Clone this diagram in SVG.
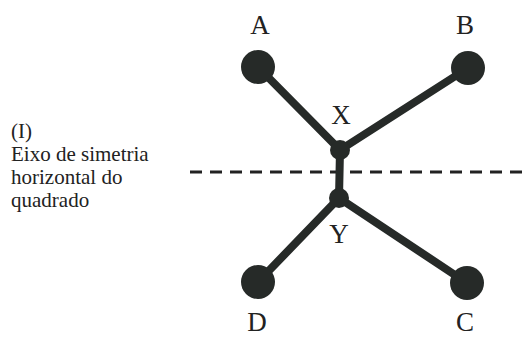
<svg xmlns="http://www.w3.org/2000/svg" width="528" height="338" viewBox="0 0 528 338">
<style>
text{font-family:'Liberation Serif','Times New Roman',serif}
.lbl{font-size:27px;fill:#222;text-anchor:middle}
.cap{font-size:21px;fill:#222}
.bond{stroke:#262a28;stroke-width:8;stroke-linecap:round}
.big{fill:#262a28}
</style>
<rect width="528" height="338" fill="#fff"/>
<g id="caption">
<text class="cap" x="11" y="138">(I)</text>
<text class="cap" x="11" y="161">Eixo de simetria</text>
<text class="cap" x="11" y="184">horizontal do</text>
<text class="cap" x="11" y="207">quadrado</text>
</g>
<g id="axis">
<line x1="190" y1="172" x2="528" y2="172" stroke="#222" stroke-width="3" stroke-dasharray="12,8"/>
</g>
<g id="connectors">
<line class="bond" x1="258" y1="67" x2="340" y2="150"/>
<line class="bond" x1="468" y1="68" x2="340" y2="150"/>
<line class="bond" x1="340" y1="150" x2="339" y2="198"/>
<line class="bond" x1="258" y1="282" x2="339" y2="198"/>
<line class="bond" x1="467" y1="283" x2="339" y2="198"/>
</g>
<g id="A"><circle class="big" cx="258" cy="67" r="17"/><text class="lbl" x="260" y="34">A</text></g>
<g id="B"><circle class="big" cx="468" cy="68" r="17"/><text class="lbl" x="465" y="34">B</text></g>
<g id="X"><circle class="big" cx="340" cy="150" r="10"/><text class="lbl" x="341" y="124">X</text></g>
<g id="Y"><circle class="big" cx="339" cy="198" r="10"/><text class="lbl" x="339" y="243">Y</text></g>
<g id="D"><circle class="big" cx="258" cy="282" r="17"/><text class="lbl" x="257" y="331">D</text></g>
<g id="C"><circle class="big" cx="467" cy="283" r="17"/><text class="lbl" x="465" y="331">C</text></g>
</svg>
